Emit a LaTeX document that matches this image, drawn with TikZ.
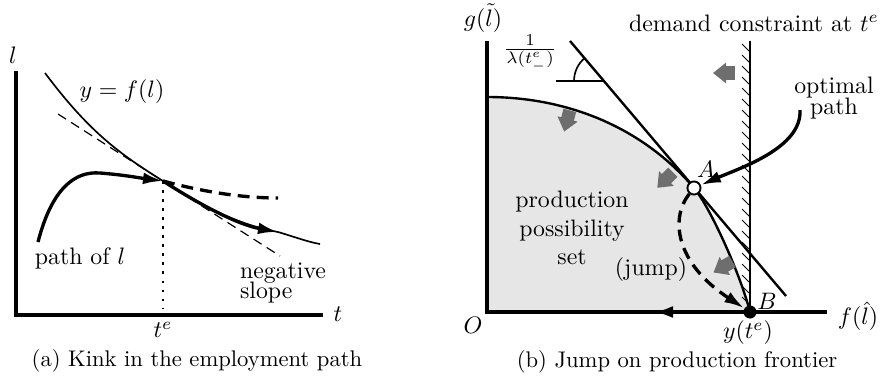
\documentclass[tikz,border=0pt]{standalone}
\usetikzlibrary{calc, arrows.meta}
\definecolor{setgray}{HTML}{E6E6E6}
\definecolor{pushgray}{HTML}{6E6E6E}

\begin{document}
\begin{tikzpicture}[
    x=0.42pt, y=0.42pt,
    >={Latex[length=8.4pt,width=5pt]},
    axis/.style={line width=1.7pt},
    pathline/.style={line width=1.4pt},
    frontier/.style={line width=1pt},
    thickdash/.style={dash pattern=on 5pt off 3pt},
    pusharrow/.style={line width=5.5pt, pushgray, -{Triangle[length=5.5pt,width=8.4pt]}},
    captext/.style={font=\fontsize{9.5}{11.5}\selectfont}
]
    \useasboundingbox (0,0) rectangle (883,383);

    % ---------- (a) Kink in the employment path ----------
    % Axes
    \coordinate (lorigin) at (16,68);
    \draw[axis] (16,312) -- (lorigin) -- (323,68);
    \node (llab) at (13,328) {$l$};
    \node (tlab) at (338,69) {$t$};

    % Production function y = f(l)
    \coordinate (T) at (163,202);
    \coordinate (P) at (278,151);
    \draw[line width=0.7pt] (45,310) .. controls (90,250) and (120,229) .. (T)
        .. controls (205,175) and (240,158) .. (P)
        .. controls (295,146) and (308,141) .. (320,139);
    \node (flab) at (122,291) {$y=f(l)$};

    % Tangent with negative slope
    \draw[line width=0.5pt, dash pattern=on 4pt off 2.5pt] ($(T)+(-105,67)$) -- ($(T)+(117,-75)$);
    \node[align=left] (slopelab) at (283,100) {negative\\[-3.5pt]slope};

    % Path of l
    \draw[pathline, ->] (38,141) .. controls (52,195) and (75,212) .. (100,210)
        .. controls (125,208) and (140,205) .. (T);
    \draw[pathline, ->] (T) .. controls (205,175) and (240,158) .. (P);
    \draw[pathline, thickdash] (T) .. controls (200,192) and (240,185) .. (278,185);
    \node (pathlab) at (80,125) {path of $l$};

    % Time t^e
    \draw[line width=1.2pt, dash pattern=on 1.2pt off 2.6pt] (T) -- (T |- 0,75);
    \node (telab) at (163,53) {$t^e$};

    \node[captext] (capa) at (197,22) {(a) Kink in the employment path};

    % ---------- (b) Jump on production frontier ----------
    % Production possibility set
    \coordinate (O) at (487,71);
    \fill[setgray] (487,286) .. controls (570,286) and (644,254) .. (694,195)
        .. controls (710,176) and (740,110) .. (750,71) -- (O) -- cycle;
    \draw[frontier] (487,286) .. controls (570,286) and (644,254) .. (694,195)
        .. controls (710,176) and (740,110) .. (750,71);
    \node[align=center] (setlab) at (572,155) {production\\possibility\\set};

    % Axes
    \draw[axis] (487,342) -- (O) -- (827,71);
    \node (glab) at (483,365) {$g(\tilde{l})$};
    \node (fhatlab) at (858,67) {$f(\hat{l})$};
    \node (Olab) at (473,58) {$O$};

    % Demand constraint at t^e
    \draw[line width=1.2pt] (750,342) -- (750,71);
    \foreach \y in {86,97,...,340}
        \draw[line width=0.4pt] (742,\y) -- (749,\y-7);
    \node (demlab) at (754,360) {demand constraint at $t^e$};

    % Price line and its slope
    \coordinate (tanA) at (570,342);
    \coordinate (tanB) at (786,87);
    \coordinate (V) at (604,302);
    \draw[frontier] (tanA) -- (tanB);
    \draw[line width=0.7pt] (556,302) -- (V);
    \draw[line width=0.7pt] ($(V)+(-30,0)$) arc[start angle=180, end angle=130, radius=12.6pt];
    \node (slopefrac) at (530,330) {$\frac{1}{\lambda(t^e_-)}$};

    % Shifts of the frontier
    \foreach \px/\py/\ang in {724/310/180, 567/262/255, 665/203/225, 723/116/210}
        \draw[pusharrow] (\px,\py) ++(\ang+180:11) -- ++(\ang:22);

    % Points A and B
    \node[circle, draw, fill=white, line width=0.8pt, inner sep=0pt, minimum size=5.5pt] (A) at (694,195) {};
    \node[circle, fill=black, inner sep=0pt, minimum size=5.5pt] (B) at (750,71) {};
    \node (Alab) at (706,214) {$A$};
    \node (Blab) at (767,82) {$B$};
    \node (ytlab) at (748,50) {$y(t^e)$};

    % Optimal path and the jump
    \coordinate (optstart) at (800,273);
    \draw[pathline, ->] (optstart) .. controls (802,235) and (740,215) .. (A);
    \node[align=center] (optlab) at (834,285) {optimal\\[-3.5pt]path};
    \draw[pathline, thickdash, ->] (A) .. controls (670,165) and (675,120) .. (B);
    \node (jumplab) at (651,113) {(jump)};
    \draw[axis, ->] (B) -- (653,71);

    \node[captext] (capb) at (677,21) {(b) Jump on production frontier};

\end{tikzpicture}
\end{document}
